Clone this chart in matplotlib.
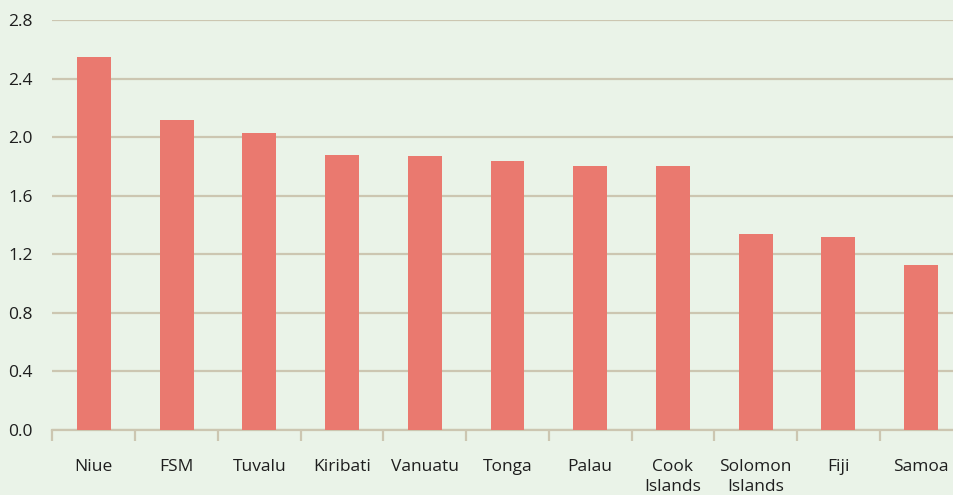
import numpy as np
from matplotlib import pyplot as plt
from matplotlib.ticker import FixedLocator

## Data
countries = ['Niue', 'FSM', 'Tuvalu', 'Kiribati', 'Vanuatu', 'Tonga', 'Palau',
             'Cook\nIslands', 'Solomon\nIslands', 'Fiji', 'Samoa']
values = [2.55, 2.12, 2.03, 1.88, 1.87, 1.84, 1.80, 1.80, 1.34, 1.32, 1.13]
yticks = [0.0, 0.4, 0.8, 1.2, 1.6, 2.0, 2.4, 2.8]

bg = '#eaf3e8'
bar_col = '#ea796f'
grid_col = '#ccc6b1'

plt.rcParams['font.family'] = ['Open Sans', 'DejaVu Sans']

fig = plt.figure(figsize=(9.54, 4.95), dpi=100, facecolor=bg)
ax = fig.add_axes([52.5/954, 65/495, 910/954, 410/495], facecolor=bg)

x = np.arange(len(countries))
ax.bar(x, values, width=0.41, color=bar_col, zorder=3)

ax.set_xlim(-0.5, len(countries) - 0.5)
ax.set_ylim(0, 2.8)
ax.set_yticks(yticks)
ax.set_yticklabels(['%.1f' % v for v in yticks])
ax.grid(axis='y', color=grid_col, linewidth=1.6, zorder=0)
ax.set_axisbelow(True)

ax.set_xticks(x)
ax.set_xticklabels(countries, linespacing=1.35)
ax.xaxis.set_minor_locator(FixedLocator(np.arange(-0.5, len(countries), 1)))
ax.tick_params(axis='x', which='major', length=0, pad=21, labelsize=12.5,
               labelcolor='#1e1e1e')
ax.tick_params(axis='x', which='minor', length=8, width=1.6, color=grid_col)
ax.tick_params(axis='y', length=0, pad=14, labelsize=12.5, labelcolor='#1e1e1e')
for lab in ax.get_xticklabels():
    lab.set_verticalalignment('top')

for s in ['top', 'right', 'left']:
    ax.spines[s].set_visible(False)
ax.spines['bottom'].set_color(grid_col)
ax.spines['bottom'].set_linewidth(1.6)

plt.savefig('out.png', dpi=100, facecolor=bg)
